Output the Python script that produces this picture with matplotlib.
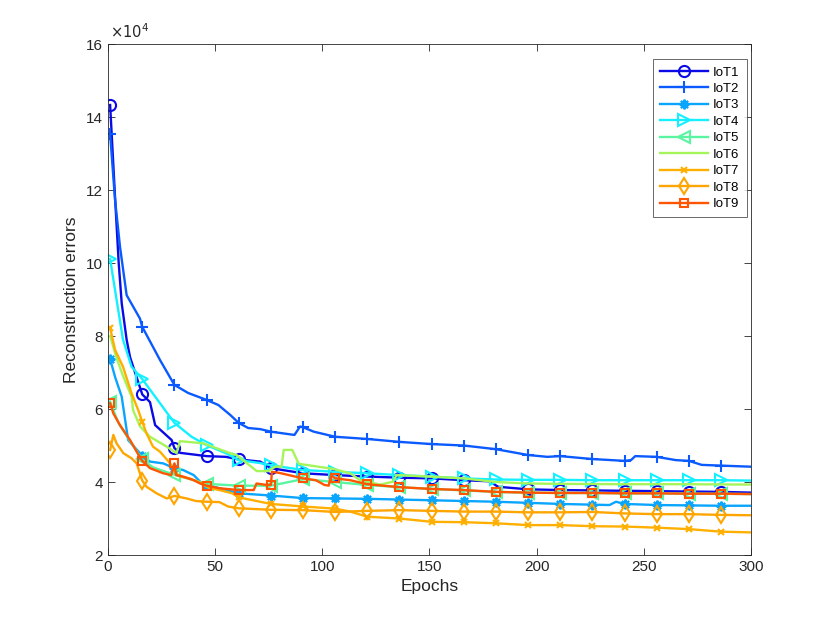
import numpy as np
import matplotlib
matplotlib.use("Agg")
import matplotlib.pyplot as plt
from matplotlib.ticker import FuncFormatter

plt.rcParams['font.family'] = ['Liberation Sans', 'DejaVu Sans']

# values in units of 1e4
labels = ["IoT1", "IoT2", "IoT3", "IoT4", "IoT5", "IoT6", "IoT7", "IoT8", "IoT9"]
marker_epochs = [1, 16, 31, 46, 61, 76, 91, 106, 121, 136, 151, 166, 181, 196, 211, 226, 241, 256, 271, 286]

iot1_x = [1, 3.3, 5, 6.4, 8.7, 10.3, 16, 19.6, 22, 29.7, 31, 33.6, 46, 55, 61, 71, 76, 91, 106, 121, 136, 151, 166, 178, 182, 196, 211, 226, 241, 256, 271, 286, 300]
iot1_y = [14.33, 11.8, 10.0, 8.9, 7.9, 7.42, 6.40, 6.19, 5.56, 5.15, 4.93, 4.80, 4.71, 4.69, 4.62, 4.56, 4.38, 4.24, 4.19, 4.15, 4.12, 4.10, 4.05, 4.02, 3.87, 3.80, 3.78, 3.77, 3.76, 3.75, 3.74, 3.73, 3.71]

iot2_x = [1, 3.3, 5.6, 8.7, 14.9, 16, 24.3, 31, 37.4, 46, 51.5, 57, 61, 65.4, 71, 76, 87, 89.6, 91, 96, 106, 121, 136, 151, 166, 181, 196, 205, 211, 226, 241, 244, 246, 256, 265, 271, 277, 286, 300]
iot2_y = [13.53, 11.73, 10.45, 9.12, 8.48, 8.25, 7.34, 6.66, 6.44, 6.25, 6.11, 5.84, 5.62, 5.48, 5.45, 5.38, 5.29, 5.52, 5.50, 5.38, 5.24, 5.18, 5.10, 5.04, 5.00, 4.90, 4.74, 4.69, 4.71, 4.63, 4.58, 4.60, 4.71, 4.69, 4.60, 4.58, 4.47, 4.45, 4.42]

iot3_x = [1, 3.3, 6.4, 9.4, 16, 19.6, 25.8, 31, 35, 40, 43, 46, 52, 61, 76, 91, 106, 121, 136, 151, 166, 181, 196, 211, 226, 234, 237, 241, 256, 271, 286, 300]
iot3_y = [7.37, 6.88, 6.34, 5.15, 4.72, 4.56, 4.51, 4.38, 4.33, 4.19, 4.01, 3.92, 3.83, 3.69, 3.63, 3.56, 3.55, 3.54, 3.52, 3.50, 3.48, 3.46, 3.43, 3.40, 3.38, 3.37, 3.46, 3.40, 3.37, 3.36, 3.35, 3.35]

iot4_x = [1, 4, 7, 11, 16, 22, 31, 39, 46, 55, 61, 71, 76, 91, 106, 121, 136, 151, 166, 181, 196, 211, 226, 241, 256, 271, 286, 300]
iot4_y = [10.11, 9.0, 7.9, 7.16, 6.82, 6.34, 5.62, 5.24, 5.01, 4.79, 4.60, 4.52, 4.46, 4.33, 4.28, 4.24, 4.19, 4.15, 4.10, 4.07, 4.06, 4.06, 4.05, 4.05, 4.05, 4.05, 4.05, 4.04]

iot5_x = [1, 5, 10, 16, 21, 31, 40, 46, 61, 76, 91, 106, 121, 136, 151, 166, 181, 196, 211, 226, 241, 256, 271, 286, 300]
iot5_y = [6.20, 5.60, 5.15, 4.62, 4.40, 4.20, 4.05, 3.95, 3.90, 3.90, 4.08, 4.00, 3.92, 3.86, 3.81, 3.77, 3.73, 3.71, 3.70, 3.70, 3.69, 3.69, 3.68, 3.68, 3.67]

iot6_x = [1, 4, 7.2, 11, 11.7, 15, 19.6, 27.4, 32, 33.6, 44.5, 57, 60, 69.4, 74.8, 78, 81, 82, 86, 89, 105, 113, 117.6, 127, 133, 134.6, 150, 166, 181, 196, 211, 241, 271, 300]
iot6_y = [8.0, 7.4, 6.88, 6.34, 5.97, 5.52, 5.24, 4.97, 4.79, 5.12, 5.06, 4.79, 4.74, 4.30, 4.30, 4.42, 4.42, 4.88, 4.88, 4.50, 4.36, 4.24, 4.05, 3.93, 4.01, 4.19, 4.15, 4.10, 4.00, 3.96, 3.95, 3.94, 3.94, 3.93]

iot7_x = [1, 3.3, 7, 11, 14.1, 16, 18, 21, 24.3, 29, 31.3, 33.6, 38, 44.5, 47.6, 52, 58, 61, 76, 91, 106, 113, 121, 136, 151, 166, 181, 196, 211, 226, 241, 256, 271, 286, 300]
iot7_y = [8.22, 7.62, 7.16, 6.43, 5.97, 5.65, 5.33, 4.97, 4.83, 4.51, 4.28, 4.15, 4.10, 3.95, 3.83, 3.78, 3.69, 3.58, 3.40, 3.33, 3.27, 3.19, 3.05, 3.00, 2.91, 2.90, 2.87, 2.82, 2.82, 2.79, 2.78, 2.75, 2.71, 2.64, 2.62]

iot8_x = [1, 2.5, 4, 7.2, 11, 13.4, 16, 18, 22.7, 27.4, 31, 36.7, 41, 46, 52, 56, 61, 76, 91, 106, 121, 136, 151, 166, 181, 196, 211, 226, 241, 256, 271, 286, 300]
iot8_y = [4.88, 5.29, 5.06, 4.79, 4.65, 4.51, 4.04, 3.87, 3.69, 3.55, 3.62, 3.55, 3.48, 3.46, 3.45, 3.33, 3.28, 3.24, 3.23, 3.18, 3.21, 3.23, 3.21, 3.19, 3.19, 3.17, 3.17, 3.18, 3.14, 3.12, 3.12, 3.10, 3.09]

iot9_x = [1, 2.5, 5.6, 10.3, 13.4, 16, 19.6, 25.8, 29.5, 31, 31.8, 35, 40, 43, 46, 52, 61, 68, 69.3, 74, 76, 76.5, 80, 91, 97, 101, 103, 104, 106, 113, 121, 136, 151, 166, 181, 196, 211, 226, 241, 256, 271, 286, 300]
iot9_y = [6.16, 5.88, 5.56, 5.15, 4.83, 4.58, 4.38, 4.24, 4.19, 4.51, 4.19, 4.15, 4.05, 3.96, 3.90, 3.83, 3.78, 3.78, 3.96, 3.92, 3.92, 4.28, 4.25, 4.10, 4.05, 3.92, 3.90, 4.19, 4.10, 4.05, 3.94, 3.86, 3.81, 3.78, 3.73, 3.71, 3.70, 3.70, 3.69, 3.69, 3.68, 3.68, 3.67]

series_x = [iot1_x, iot2_x, iot3_x, iot4_x, iot5_x, iot6_x, iot7_x, iot8_x, iot9_x]
series_y = [iot1_y, iot2_y, iot3_y, iot4_y, iot5_y, iot6_y, iot7_y, iot8_y, iot9_y]

colors = ['#0a0ae6', '#0a5aff', '#0aa5ff', '#14f0ff', '#5af5a0', '#a5f55a', '#ffaf00', '#ffa500', '#ff5500']
markers = ['o', '+', (8, 2, 0), '>', '<', None, 'x', 'd', 's']
msizes = [8, 9, 7, 8, 8, 0, 5, 8, 6]

fig = plt.figure(figsize=(8.3, 6.23), dpi=100)
ax = fig.add_axes([0.1301, 0.1091, 0.7747, 0.8202])

for xs, ys, c, m, ms, lab in zip(series_x, series_y, colors, markers, msizes, labels):
    xs = np.asarray(xs, dtype=float)
    ys = np.asarray(ys, dtype=float) * 1e4
    idx = [i for i, v in enumerate(xs) if v in marker_epochs]
    kw = dict(color=c, lw=1.7, label=lab)
    if m is not None:
        hollow = m in ('o', '>', '<', 'd', 's')
        kw.update(marker=m, markevery=idx, markersize=ms,
                  markeredgewidth=1.5, markerfacecolor='none' if hollow else c,
                  markeredgecolor=c)
    ax.plot(xs, ys, **kw)

ax.set_xlim(0, 300)
ax.set_ylim(2e4, 16e4)
ax.set_xticks(np.arange(0, 301, 50))
ax.set_yticks(np.arange(2e4, 16.1e4, 2e4))
ax.yaxis.set_major_formatter(FuncFormatter(lambda v, p: f"{v / 1e4:g}"))
ax.text(0.003, 1.006, r'$\times10^{4}$', transform=ax.transAxes, fontsize=10.5,
        color='#262626', ha='left', va='bottom')

ax.tick_params(direction='in', top=True, right=True, length=5, width=0.6,
               labelsize=11, colors='#262626')
for s in ax.spines.values():
    s.set_color('#262626')
    s.set_linewidth(0.6)

ax.set_xlabel('Epochs', fontsize=12.5, color='#262626', labelpad=4)
ax.set_ylabel('Reconstruction errors', fontsize=12.5, color='#262626', labelpad=5)

leg = ax.legend(loc='upper right', bbox_to_anchor=(0.9938, 0.9706), borderaxespad=0,
                fontsize=9.5, handlelength=3.6, labelspacing=0.32, handletextpad=0.4,
                frameon=True, fancybox=False, edgecolor='#262626', borderpad=0.55)
leg.get_frame().set_linewidth(0.6)

fig.savefig('out.png', dpi=100, facecolor='white')
